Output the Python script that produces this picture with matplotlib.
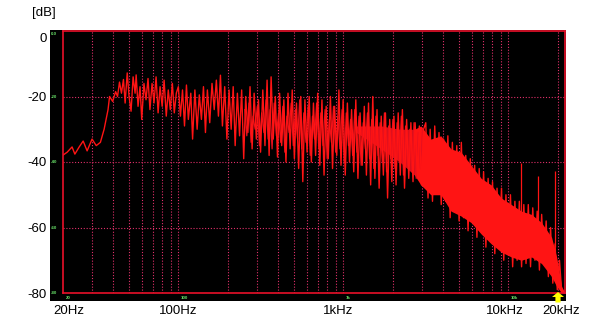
import matplotlib
matplotlib.use("Agg")
import matplotlib.pyplot as plt
from matplotlib.ticker import FixedLocator, NullLocator
from matplotlib.patches import Polygon
import matplotlib.transforms as mtransforms

plt.rcParams['font.family'] = ['Liberation Sans', 'DejaVu Sans']

# ---------------- data ----------------
low_freq = [20, 21.2, 22.7, 23.6, 25, 26.5, 28, 30, 31.8, 33.7,
            35.5, 37.5, 38.3, 40, 41.7, 42.8, 44, 45.2, 46.5, 47.6,
            49, 50.3, 51.7, 53.2, 54.7, 55.5, 57, 58.6, 60, 61.9,
            63.7, 65.5, 67.3, 69.3, 71.2, 73.3, 75.4, 77.5, 79.8, 82,
            84.5, 86.9, 89.4, 92, 94.5, 97.2]
low_db = [-37.9, -37, -35.4, -37.6, -35.5, -33.6, -36.6, -33, -35, -34,
          -30, -24, -20, -21.5, -18.5, -20, -15.6, -19, -14.8, -22,
          -12.8, -20, -24.5, -14, -19, -13.4, -23, -17, -27, -16,
          -21, -14.5, -24, -16, -22, -14, -25, -17, -23, -15,
          -26, -18, -24, -16, -25, -19]

mid_freq = [100, 103, 106, 109, 112, 115, 119, 122, 126, 130,
            134, 138, 142, 146, 150, 155, 160, 165, 170, 175,
            180, 185, 191, 197, 203, 209, 215, 221, 228, 235,
            242, 249, 256, 264, 272, 280, 288, 297, 306, 315,
            325, 335, 345, 355, 365, 376, 387, 399, 411, 423,
            436, 449, 462, 476, 490, 505, 520, 536, 552, 568,
            585, 603, 621, 640, 659, 679, 699, 720, 742, 764,
            787, 810, 835, 860, 885, 912, 940, 968, 997, 1027,
            1058, 1090, 1122, 1156, 1190, 1226, 1263, 1301, 1340, 1380,
            1421, 1464, 1508, 1553, 1600, 1648, 1697, 1748, 1800, 1854,
            1910, 1967, 2026, 2087, 2150, 2214, 2280, 2349, 2419, 2492,
            2567, 2644, 2723, 2805, 2889, 2976, 3065]
mid_db = [-17, -26, -18, -29, -16.5, -27, -19, -33, -18, -30,
          -19.5, -27, -17, -31, -18, -28, -16, -24, -15, -26,
          -13.5, -29, -17, -33, -18, -30, -17, -35, -19, -32,
          -18, -39, -20, -31, -17, -36, -19, -33, -21, -37,
          -18, -35, -15, -38, -14, -33, -20, -38.5, -19, -35,
          -21, -40, -19, -36, -18, -39, -22, -42, -20, -46,
          -21, -37, -20, -40, -22, -38, -19, -41, -21, -44,
          -23, -39, -20, -42, -23, -38, -18, -41, -21, -44,
          -22, -40, -24, -43, -21, -45, -25, -41, -23, -44,
          -22, -47, -20, -45, -24, -48, -26, -44, -25, -51,
          -27, -46, -26, -47, -25, -44, -24, -48, -27, -45,
          -28, -46, -28, -44, -29, -47, -30]

# interleaved bins of the same trace (the blurred core of the mid band)
mid2_freq = [253, 260, 268, 276, 284, 292, 301, 310, 320, 330,
             340, 350, 360, 370, 381, 393, 405, 417, 430, 442,
             455, 469, 483, 497, 512, 528, 544, 560, 576, 594,
             612, 630, 650, 669, 689, 710, 731, 753, 775, 798,
             822, 847, 872, 898, 926, 954, 982, 1012, 1042, 1074,
             1106, 1139, 1173, 1208, 1244, 1282, 1320, 1360, 1400, 1442,
             1486, 1530, 1576, 1624, 1672, 1722, 1774, 1827, 1882, 1938,
             1996, 2056, 2118, 2182, 2247, 2314, 2384, 2455, 2529, 2605,
             2683, 2764, 2847, 2932, 3020]
mid2_db = [-24, -32, -22, -34, -26, -30, -23, -35, -25, -31,
           -21, -33, -24, -36, -22, -32, -25, -34, -23, -37,
           -26, -31, -22, -35, -24, -33, -21, -36, -25, -34,
           -23, -38, -26, -33, -22, -36, -25, -35, -24, -39,
           -27, -34, -23, -37, -26, -36, -24, -40, -25, -35,
           -27, -38, -24, -37, -26, -41, -28, -36, -25, -39,
           -27, -42, -26, -38, -28, -40, -25, -43, -29, -39,
           -27, -42, -28, -40, -26, -44, -29, -41, -30, -43,
           -28, -45, -31, -42, -30]

high_freq = [3160, 3260, 3360, 3470, 3580, 3690, 3800, 3920, 4050, 4170,
             4300, 4440, 4580, 4720, 4870, 5030, 5190, 5350, 5520, 5700,
             5880, 6060, 6250, 6450, 6660, 6870, 7080, 7310, 7540, 7780,
             8020, 8280, 8540, 8810, 9090, 9380, 9670, 9980, 10300, 10620,
             10960, 11300, 11660, 12030, 12410, 12800, 13210, 13630, 14060, 14500,
             14960, 15430, 15920, 16430, 16950, 17480, 18030, 18600, 19190, 19800,
             20420, 21070, 21740, 22050]
high_db = [-28, -51, -30, -52, -29, -48, -31, -53, -33, -52,
           -32, -57, -34, -54, -35, -58, -34, -57, -38, -61,
           -39, -58, -41, -63, -42, -61, -43, -66, -45, -64,
           -46, -68, -48, -66, -48, -70, -50, -68, -50, -72,
           -52, -70, -52, -72, -53, -71, -53, -72, -54, -70,
           -55, -73, -56, -71, -58, -75, -60, -77, -65, -79,
           -70, -80, -80, -80]

core_freq = [1200, 1700, 2200, 2700]
core_hi = [-29, -29, -30, -30]
core_lo = [-31, -36, -40, -44]

env_freq = [2700, 2950, 3390, 3900, 4490, 5170, 5950, 6850, 7880, 9060, 10430,
            12000, 13810, 15890, 18290, 19620, 21050, 22050]
env_hi = [-30, -29, -33, -32, -36, -37, -41, -45, -47, -51, -53,
          -55, -56, -58.5, -63, -69, -78, -80]
env_lo = [-44, -47, -50, -50, -55, -56.5, -58.5, -62, -65, -67.5, -69,
          -70, -69, -71, -75, -78, -80, -80]

spike_freq = [12000, 15030, 19080]
spike_db = [-40.4, -44.3, -42.7]
spike_base = [-56, -58, -66]

grid_freqs = [30, 40, 50, 60, 70, 80, 90, 100, 200, 300, 400, 500, 600, 700,
              800, 900, 1000, 2000, 3000, 4000, 5000, 6000, 7000, 8000, 9000,
              10000, 20000]
grid_db = [-20, -40, -60]
xtick_freqs = [20, 100, 1000, 10000, 20000]
xtick_labels = ['20Hz', '100Hz', '1kHz', '10kHz', '20kHz']
ytick_vals = [0, -20, -40, -60, -80]
ytick_labels = ['0', '-20', '-40', '-60', '-80']
green_y_labels = ['-20', '-40', '-60', '-80']
green_x_labels = ['20', '100', '1k', '10k']
green_x_freqs = [20, 100, 1000, 10000]
marker_freq = 20000

# ---------------- figure ----------------
W, H = 600, 332
fig = plt.figure(figsize=(W / 100, H / 100), dpi=100, facecolor='white')

def fr(x0, y0, x1, y1):
    return [x0 / W, 1 - y1 / H, (x1 - x0) / W, (y1 - y0) / H]

panel = fig.add_axes(fr(50, 30, 566, 301))
panel.set_facecolor('black')
panel.set_xticks([]); panel.set_yticks([])
for s in panel.spines.values():
    s.set_visible(False)

ax = fig.add_axes(fr(63, 31, 565, 293))
ax.set_facecolor('black')
ax.set_xscale('log')
ax.set_xlim(20, 22050)
ax.set_ylim(-80, 0)

red = '#ff1414'
gridc = '#e0306a'
for f in grid_freqs:
    ax.axvline(f, color=gridc, lw=0.8, ls=(0, (1, 1.6)), zorder=1)
for d in grid_db:
    ax.axhline(d, color=gridc, lw=0.8, ls=(0, (1, 1.6)), zorder=1)

ax.fill_between(core_freq, core_lo, core_hi, color='#d8101c', lw=0, zorder=2)
ax.fill_between(env_freq, env_lo, env_hi, color=red, lw=0, zorder=2)
ax.plot(mid2_freq, mid2_db, color='#e8101e', lw=0.9, zorder=3)
ax.plot(low_freq + mid_freq + high_freq, low_db + mid_db + high_db,
        color=red, lw=1.0, zorder=3)
ax.vlines(spike_freq, spike_base, spike_db, color=red, lw=0.9, zorder=3)

for s in ax.spines.values():
    s.set_color('#e8102a')
    s.set_linewidth(1.2)
    s.set_zorder(4)

ax.xaxis.set_major_locator(FixedLocator(xtick_freqs))
ax.xaxis.set_minor_locator(NullLocator())
ax.set_xticklabels(xtick_labels)
ax.yaxis.set_major_locator(FixedLocator(ytick_vals))
ax.set_yticklabels(ytick_labels)
ax.tick_params(axis='both', length=0, labelsize=9.5, colors='black')
ax.tick_params(axis='x', pad=9)
ax.tick_params(axis='y', pad=11.5)

xl = ax.get_xticklabels()
shifts = [6, 0, -5, -4, 3]
for lab, s in zip(xl, shifts):
    lab.set_transform(lab.get_transform() +
                      mtransforms.ScaledTranslation(s / 100, 0, fig.dpi_scale_trans))
yl = ax.get_yticklabels()
yl[0].set_transform(yl[0].get_transform() +
                    mtransforms.ScaledTranslation(0, -6 / 100, fig.dpi_scale_trans))

fig.text(32 / W, 1 - 13 / H, '[dB]', fontsize=9.5, va='center', ha='left')

# tiny green readouts inside the panel
green = '#66dd66'
for lab, d in zip(green_y_labels, [-20, -40, -60, -80]):
    ax.text(-0.012, d, lab, transform=ax.get_yaxis_transform(), fontsize=3.2,
            color=green, ha='right', va='center', fontweight='bold')
ax.text(-0.012, -1, '0.0', transform=ax.get_yaxis_transform(), fontsize=3.2,
        color=green, ha='right', va='center', fontweight='bold')
for lab, f in zip(green_x_labels, green_x_freqs):
    ax.annotate(lab, xy=(f, 0), xycoords=('data', 'axes fraction'),
                xytext=(2, -3.5), textcoords='offset points', fontsize=3.2,
                color=green, ha='left', va='center', fontweight='bold',
                annotation_clip=False)

# yellow marker arrow at 20 kHz (shape in pixels, anchored at the marker frequency)
arrow_shape = [(0, 1), (6, -4), (2.6, -4), (2.6, -9.5), (-2.6, -9.5), (-2.6, -4), (-6, -4)]
fig.canvas.draw()
px, py = ax.transData.transform((marker_freq, -80))
arrow = Polygon(arrow_shape, closed=True, fc='#ffff00', ec='none',
                transform=mtransforms.Affine2D().translate(px, py), clip_on=False,
                zorder=6)
fig.add_artist(arrow)

fig.savefig('out.png', dpi=100, facecolor='white')
